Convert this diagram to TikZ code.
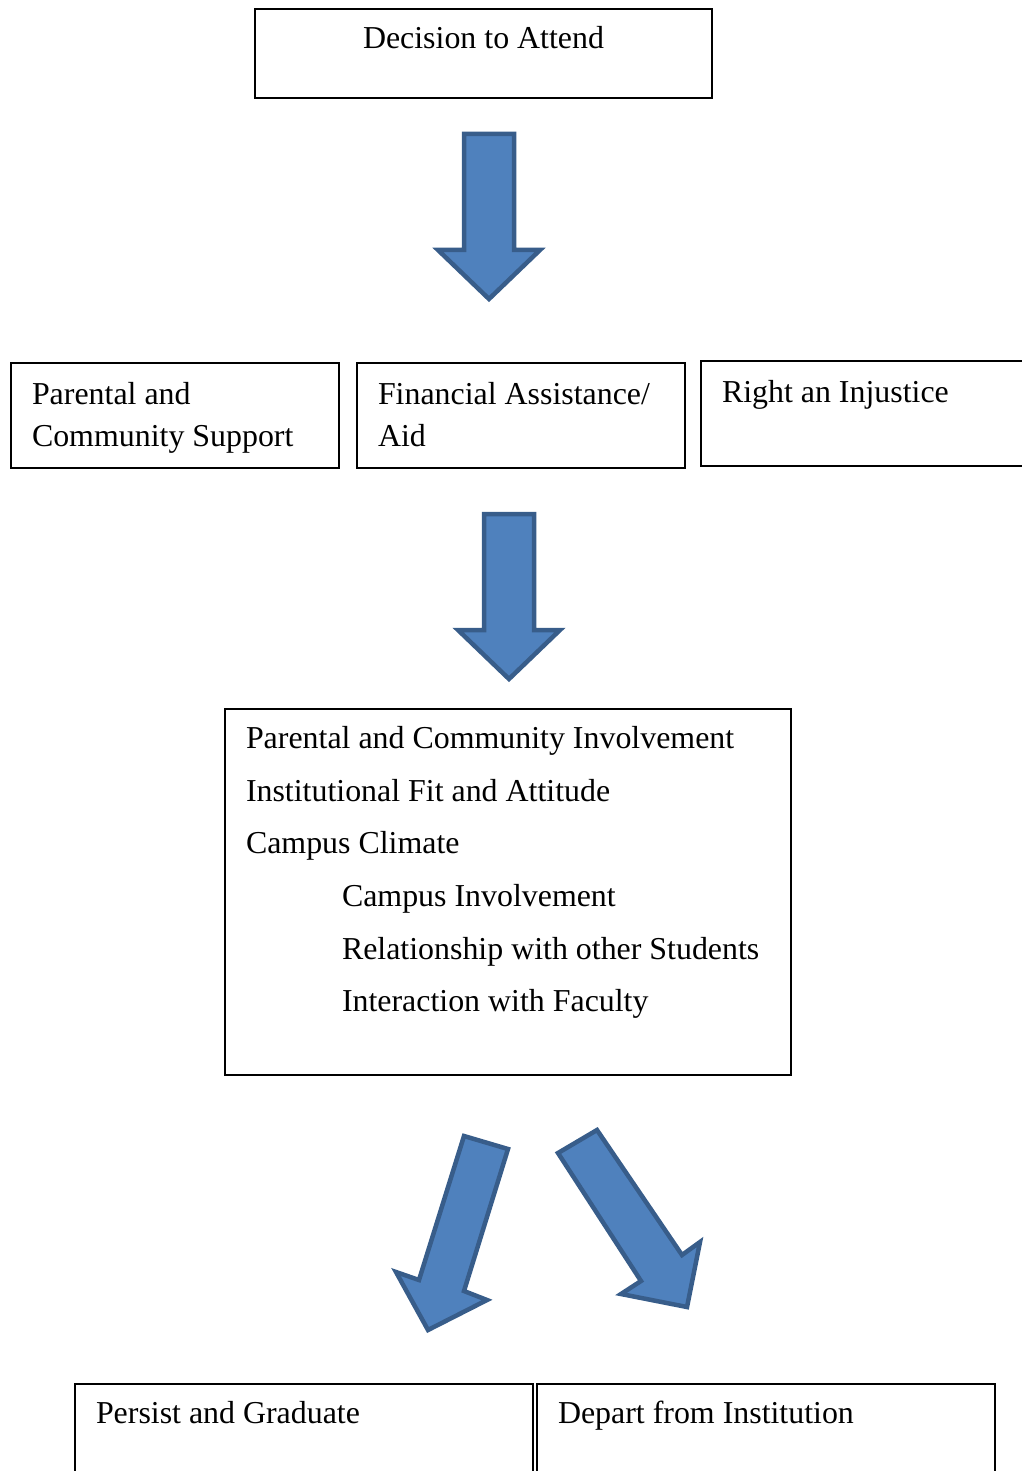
\documentclass[tikz,border=0pt]{standalone}
\usepackage{fontspec}
\setmainfont{Liberation Serif}
\definecolor{arrfill}{HTML}{4F81BD}
\definecolor{arrline}{HTML}{385D8A}
\begin{document}
\begin{tikzpicture}[x=1pt,y=-1pt,
  box/.style={draw=black,line width=2.4pt,fill=none,inner sep=0pt,outer sep=0pt},
  txt/.style={inner sep=0pt,outer sep=0pt,font=\fontsize{31.9}{38}\selectfont,anchor=base west},
  bigarrow/.style={fill=arrfill,draw=arrline,line width=4.5pt,line join=miter}]
\useasboundingbox (0,0) rectangle (1021,1471);
% boxes
\node[box,anchor=north west,minimum width=457pt,minimum height=89pt] (b1) at (255,9) {};
\node[txt,anchor=base] (t1) at (483.5,49) {Decision to Attend};
\node[box,anchor=north west,minimum width=328pt,minimum height=105pt] (b2a) at (11,363) {};
\node[txt] (t2a1) at (32,404) {Parental and};
\node[txt] (t2a2) at (32,446) {Community Support};
\node[box,anchor=north west,minimum width=328pt,minimum height=105pt] (b2b) at (357,363) {};
\node[txt] (t2b1) at (378,404) {Financial Assistance/};
\node[txt] (t2b2) at (378,446) {Aid};
\node[box,anchor=north west,minimum width=340pt,minimum height=105pt] (b2c) at (701,361) {};
\node[txt] (t2c) at (722,402) {Right an Injustice};
\node[box,anchor=north west,minimum width=566pt,minimum height=366pt] (b3) at (225,709) {};
\node[txt] (t31) at (246,748) {Parental and Community Involvement};
\node[txt] (t32) at (246,801) {Institutional Fit and Attitude};
\node[txt] (t33) at (246,853) {Campus Climate};
\node[txt] (t34) at (342,906) {Campus Involvement};
\node[txt] (t35) at (342,959) {Relationship with other Students};
\node[txt] (t36) at (342,1011) {Interaction with Faculty};
\node[box,anchor=north west,minimum width=458pt,minimum height=110pt] (b4a) at (75,1384) {};
\node[txt] (t4a) at (96,1423) {Persist and Graduate};
\node[box,anchor=north west,minimum width=458pt,minimum height=110pt] (b4b) at (537,1384) {};
\node[txt] (t4b) at (558,1423) {Depart from Institution};
% block arrows
\draw[bigarrow] (464,134) -- (514,134) -- (514,250) -- (540,250) -- (489,299) -- (438,250) -- (464,250) -- cycle;
\draw[bigarrow] (484,514) -- (534,514) -- (534,630) -- (560,630) -- (509,679) -- (458,630) -- (484,630) -- cycle;
\draw[bigarrow] (464,1136) -- (508,1149) -- (464,1291) -- (487,1300) -- (428,1330) -- (396,1272) -- (419,1280) -- cycle;
\draw[bigarrow] (558,1153) -- (597,1130) -- (682,1255) -- (700,1242) -- (687,1307) -- (621,1294) -- (641,1281) -- cycle;
\end{tikzpicture}
\end{document}
